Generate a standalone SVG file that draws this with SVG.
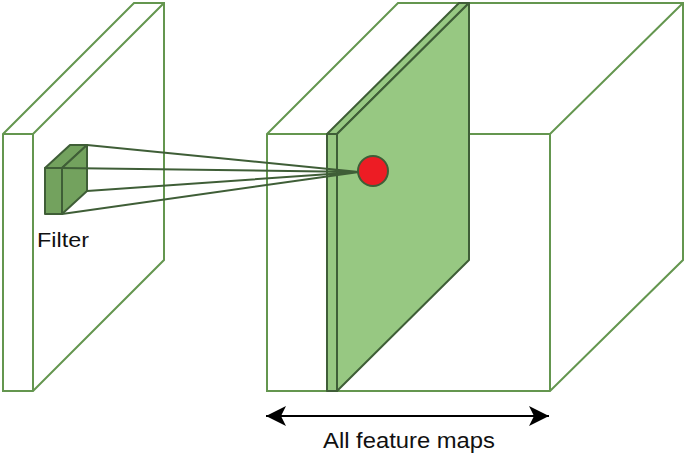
<svg xmlns="http://www.w3.org/2000/svg" width="685" height="453" viewBox="0 0 685 453">
<style>
.out{fill:none;stroke:#64964f;stroke-width:2;stroke-linejoin:miter}
.wf{fill:#ffffff;stroke:#64964f;stroke-width:2}
.dk{stroke:#3f5e37;stroke-width:2;stroke-linejoin:round}
.slab{fill:#97c882}
.filt{fill:#73a25e}
.ray{stroke:#3f5e37;stroke-width:2;fill:none}
.lbl{font-family:"Liberation Sans",Arial,sans-serif;fill:#111111}
</style>
<defs>
<marker id="ah" viewBox="0 0 22 22" refX="21" refY="11" markerWidth="22" markerHeight="22" markerUnits="userSpaceOnUse" orient="auto-start-reverse">
<path d="M21,11 L1,1 L6,11 L1,21 Z" fill="#000000"/>
</marker>
</defs>
<rect width="685" height="453" fill="#ffffff"/>
<g id="input-slab">
<path class="wf" d="M3,134 L134,3 L164,3 L164,260 L33,391 L3,391 Z"/>
<path class="out" d="M3,134 L33,134 L164,3 M33,134 L33,391"/>
</g>
<g id="feature-cube">
<path class="wf" d="M267,134 L398,3 L683,3 L683,260 L550,391 L267,391 Z"/>
<path class="out" d="M267,134 L550,134 L683,3 M550,134 L550,391"/>
</g>
<g id="feature-map-slab">
<path class="slab dk" d="M327,134 L337,134 L337,391 L327,391 Z"/>
<path class="slab dk" d="M327,134 L459,3 L469,3 L337,134 Z"/>
<path class="slab dk" d="M337,134 L469,3 L469,260 L337,391 Z"/>
</g>
<g id="filter">
<path class="filt dk" d="M45,168 L62,168 L62,214 L45,214 Z"/>
<path class="filt dk" d="M45,168 L70,145 L87,145 L62,168 Z"/>
<path class="filt dk" d="M62,168 L87,145 L87,191 L62,214 Z"/>
<text class="lbl" x="37" y="247" font-size="21" textLength="52" lengthAdjust="spacingAndGlyphs">Filter</text>
</g>
<g id="connectors">
<path class="ray" d="M87,145 L359,172 M62,168 L359,172 M87,191 L359,172 M62,214 L359,172"/>
<line x1="266" y1="416" x2="549" y2="416" stroke="#000000" stroke-width="2" marker-start="url(#ah)" marker-end="url(#ah)"/>
</g>
<g id="neuron">
<circle cx="373" cy="171" r="15" fill="#ed1c24" stroke="#3f5e37" stroke-width="2"/>
</g>
<g id="label">
<text class="lbl" x="323" y="448" font-size="22" textLength="172" lengthAdjust="spacingAndGlyphs">All feature maps</text>
</g>
</svg>
